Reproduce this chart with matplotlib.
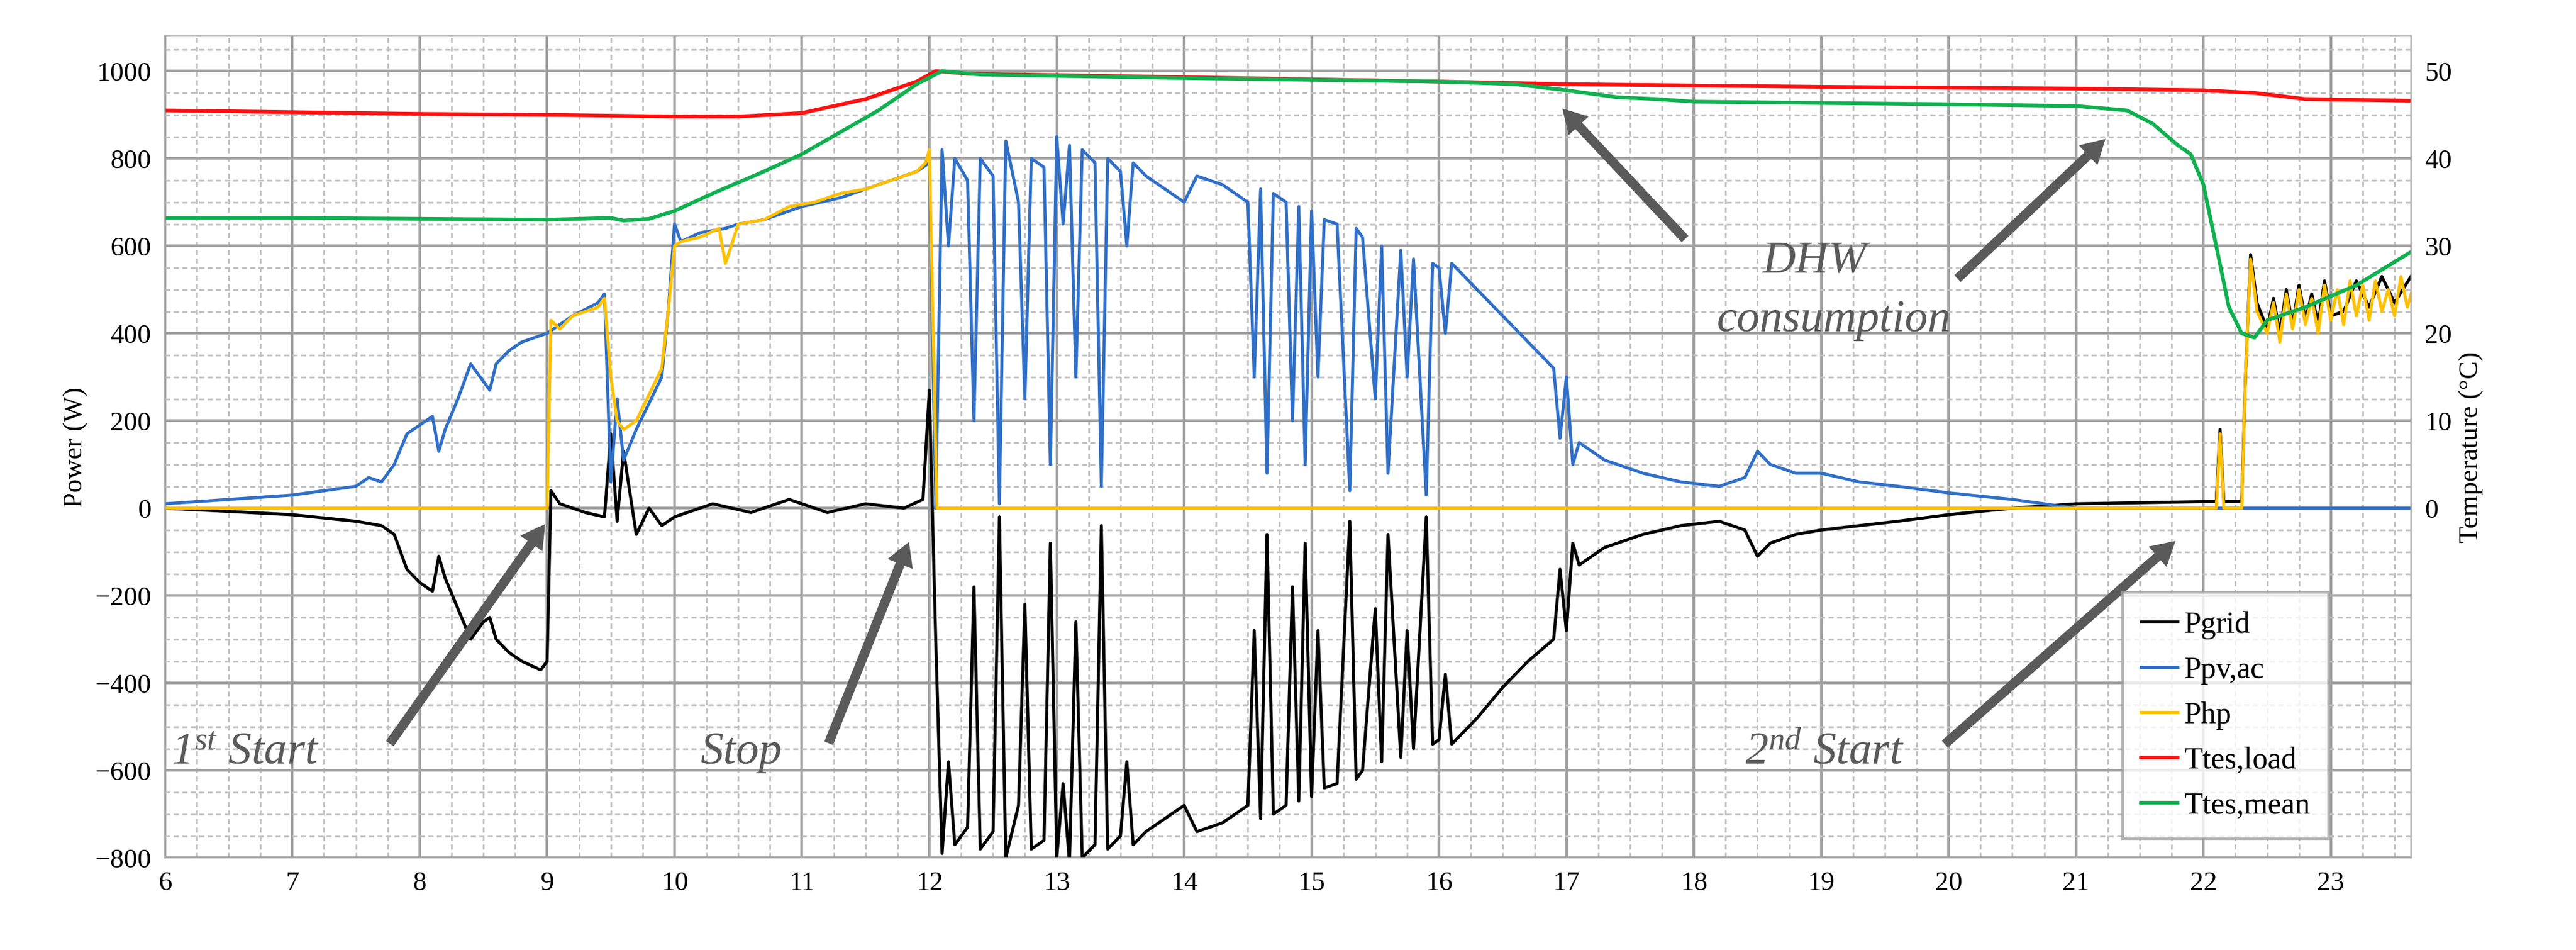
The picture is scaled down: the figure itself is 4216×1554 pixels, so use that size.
import matplotlib
matplotlib.use('Agg')
import numpy as np
import matplotlib.pyplot as plt
from matplotlib.ticker import MultipleLocator

plt.rcParams['font.family'] = ['Liberation Serif', 'DejaVu Serif']
plt.rcParams['mathtext.fontset'] = 'custom'
plt.rcParams['mathtext.it'] = 'Liberation Serif:italic'
plt.rcParams['mathtext.rm'] = 'Liberation Serif:italic'

# ── Data (hours of day, W / degC) ───────────────────────────────────────────
t_load = [6.0, 7.0, 8.0, 9.0, 10.0, 10.5, 11.0, 11.5, 11.9, 12.05, 12.3, 14.0, 16.0,
          17.0, 19.0, 21.0, 22.0, 22.4, 22.8, 23.65]
T_load = [45.5, 45.3, 45.1, 45.0, 44.8, 44.8, 45.2, 46.8, 48.8, 50.0, 49.7, 49.3, 48.8,
          48.5, 48.2, 48.0, 47.8, 47.5, 46.8, 46.6]

t_mean = [6.0, 7.0, 8.0, 9.0, 9.5, 9.6, 9.8, 10.0, 10.3, 10.7, 11.0, 11.3, 11.6, 11.9,
          12.1, 12.4, 14.0, 16.0, 16.6, 17.0, 17.4, 17.7, 18.0, 20.0, 21.0, 21.4, 21.6,
          21.8, 21.9, 22.0, 22.1, 22.2, 22.3, 22.4, 22.5, 22.8, 23.2, 23.65]
T_mean = [33.2, 33.2, 33.1, 33.0, 33.2, 32.9, 33.1, 34.0, 36.0, 38.5, 40.5, 43.0, 45.5,
          48.5, 50.0, 49.6, 49.2, 48.8, 48.5, 47.8, 47.0, 46.8, 46.5, 46.2, 46.0, 45.5,
          44.0, 41.5, 40.5, 37.0, 30.0, 23.0, 20.0, 19.5, 21.5, 23.0, 25.5, 29.5]

t_php = [6.0, 9.0, 9.03, 9.1, 9.2, 9.3, 9.4, 9.45, 9.5, 9.55, 9.6, 9.7, 9.8, 9.9, 9.95,
         10.0, 10.05, 10.2, 10.35, 10.4, 10.5, 10.7, 10.9, 11.1, 11.3, 11.5, 11.7, 11.9,
         11.97, 12.0, 12.03, 12.06, 22.1, 22.13, 22.16, 22.2, 22.3, 22.33, 22.37, 22.42,
         22.5, 22.55, 22.6, 22.65, 22.7, 22.75, 22.8, 22.85, 22.9, 22.95, 23.0, 23.05,
         23.1, 23.15, 23.2, 23.25, 23.3, 23.35, 23.4, 23.45, 23.5, 23.55, 23.6, 23.65]
P_hp = [0, 0, 430, 410, 440, 450, 460, 480, 300, 200, 180, 200, 260, 320, 450,
        600, 610, 620, 640, 560, 650, 660, 690, 700, 720, 730, 750, 770,
        790, 820, 400, 0, 0, 170, 0, 0, 0, 300, 570, 450,
        400, 470, 380, 490, 410, 500, 420, 480, 400, 510, 430, 500,
        420, 520, 440, 510, 430, 520, 450, 500, 440, 530, 460, 510]

t_pv = [6.0, 6.5, 7.0, 7.5, 7.6, 7.7, 7.8, 7.9, 8.0, 8.1, 8.15, 8.2, 8.3, 8.4, 8.5,
        8.55, 8.6, 8.7, 8.8, 9.0, 9.2, 9.4, 9.45, 9.5, 9.55, 9.6, 9.7, 9.8, 9.9, 9.95,
        10.0, 10.05, 10.2, 10.4, 10.5, 10.7, 11.0, 11.3, 11.6, 11.9, 12.0, 12.05,
        12.1, 12.15, 12.2, 12.3, 12.35, 12.4, 12.5, 12.55, 12.6, 12.7, 12.75, 12.8,
        12.9, 12.95, 13.0, 13.05, 13.1, 13.15, 13.2, 13.3, 13.35, 13.4, 13.5, 13.55,
        13.6, 13.7, 13.8, 13.9, 14.0, 14.1, 14.2, 14.3, 14.4, 14.5, 14.55, 14.6,
        14.65, 14.7, 14.8, 14.85, 14.9, 14.95, 15.0, 15.05, 15.1, 15.2, 15.3, 15.35,
        15.4, 15.5, 15.55, 15.6, 15.7, 15.75, 15.8, 15.9, 15.95, 16.0, 16.05, 16.1,
        16.3, 16.5, 16.7, 16.9, 16.95, 17.0, 17.05, 17.1, 17.3, 17.6, 17.9, 18.2,
        18.4, 18.5, 18.6, 18.8, 19.0, 19.3, 19.6, 20.0, 20.5, 21.0, 23.65]
P_pv = [10, 20, 30, 50, 70, 60, 100, 170, 190, 210, 130, 180, 250, 330, 290,
        270, 330, 360, 380, 400, 440, 470, 490, 60, 250, 110, 180, 240, 300, 450,
        650, 610, 630, 640, 650, 660, 690, 710, 740, 770, 790, 0,
        820, 600, 800, 750, 200, 800, 760, 10, 840, 700, 250, 800,
        780, 100, 850, 650, 830, 300, 820, 790, 50, 800, 770, 600,
        790, 760, 740, 720, 700, 760, 750, 740, 720, 700, 300, 730,
        80, 720, 700, 200, 690, 100, 680, 300, 660, 650, 40, 640,
        620, 250, 600, 80, 590, 300, 570, 30, 560, 550, 400, 560,
        500, 440, 380, 320, 160, 300, 100, 150, 110, 80, 60, 50,
        70, 130, 100, 80, 80, 60, 50, 35, 20, 0, 0]

t_grid = [6.0, 7.0, 7.5, 7.7, 7.8, 7.9, 8.0, 8.1, 8.15, 8.2, 8.3, 8.4, 8.5, 8.55,
          8.6, 8.7, 8.8, 8.95, 9.0, 9.03, 9.1, 9.3, 9.45, 9.5, 9.55, 9.6, 9.7, 9.8,
          9.9, 10.0, 10.3, 10.6, 10.9, 11.2, 11.5, 11.8, 11.95, 12.0, 12.05, 12.1,
          12.15, 12.2, 12.3, 12.35, 12.4, 12.5, 12.55, 12.6, 12.7, 12.75, 12.8, 12.9,
          12.95, 13.0, 13.05, 13.1, 13.15, 13.2, 13.3, 13.35, 13.4, 13.5, 13.55, 13.6,
          13.7, 13.8, 13.9, 14.0, 14.1, 14.2, 14.3, 14.4, 14.5, 14.55, 14.6, 14.65,
          14.7, 14.8, 14.85, 14.9, 14.95, 15.0, 15.05, 15.1, 15.2, 15.3, 15.35, 15.4,
          15.5, 15.55, 15.6, 15.7, 15.75, 15.8, 15.9, 15.95, 16.0, 16.05, 16.1, 16.3,
          16.5, 16.7, 16.9, 16.95, 17.0, 17.05, 17.1, 17.3, 17.6, 17.9, 18.2, 18.4,
          18.5, 18.6, 18.8, 19.0, 19.3, 19.6, 20.0, 20.5, 21.0, 22.0, 22.1, 22.13,
          22.16, 22.2, 22.3, 22.33, 22.37, 22.42, 22.5, 22.55, 22.6, 22.65, 22.7,
          22.75, 22.8, 22.85, 22.9, 22.95, 23.0, 23.1, 23.2, 23.3, 23.4, 23.5, 23.65]
P_grid = [0, -15, -30, -40, -60, -140, -170, -190, -110, -160, -230, -300, -260, -250,
          -300, -330, -350, -370, -350, 40, 10, -10, -20, 170, -30, 130, -60, 0,
          -40, -20, 10, -10, 20, -10, 10, 0, 20, 270, -300, -790,
          -580, -770, -730, -180, -780, -740, -20, -800, -680, -220, -780, -760,
          -80, -800, -630, -810, -260, -800, -770, -40, -780, -750, -580, -770,
          -740, -720, -700, -680, -740, -730, -720, -700, -680, -280, -710, -60,
          -700, -680, -180, -670, -80, -660, -280, -640, -630, -30, -620, -600,
          -230, -580, -60, -570, -280, -550, -20, -540, -530, -380, -540, -480,
          -410, -350, -300, -140, -280, -80, -130, -90, -60, -40, -30, -50,
          -110, -80, -60, -50, -40, -30, -15, 0, 10, 15, 15, 180,
          15, 15, 15, 300, 580, 470, 410, 480, 400, 500, 420,
          510, 430, 490, 420, 520, 440, 450, 520, 460, 530, 470, 540]

hours = list(range(6, 24))

# ── Figure ──────────────────────────────────────────────────────────────────
fig = plt.figure(figsize=(21.08, 7.77), dpi=200)
ax = fig.add_axes([0.064, 0.097, 0.872, 0.865])
ax2 = ax.twinx()

ax.set_xlim(6, 23.63)
ax.set_ylim(-800, 1080)
ax2.set_ylim(-40, 54)
ax.xaxis.set_major_locator(MultipleLocator(1))
ax.xaxis.set_minor_locator(MultipleLocator(0.25))
ax.yaxis.set_major_locator(MultipleLocator(200))
ax.yaxis.set_minor_locator(MultipleLocator(50))
ax.set_xticks(hours)
ax2.set_yticks([0, 10, 20, 30, 40, 50])

ax.grid(which='major', color='#a0a0a0', lw=1.6)
ax.grid(which='minor', color='#c0c0c0', lw=1.0, ls=(0, (3, 2)))
ax.set_axisbelow(True)
for a in (ax, ax2):
    for s in a.spines.values():
        s.set_color('#a0a0a0')
    a.tick_params(which='both', length=0, labelsize=16, pad=8)

ax.plot(t_grid, P_grid, color='black', lw=1.8, label='Pgrid')
ax.plot(t_pv, P_pv, color='#2F6FC8', lw=1.8, label='Ppv,ac')
ax.plot(t_php, P_hp, color='#FFC000', lw=1.8, label='Php')
ax2.plot(t_load, T_load, color='#FF1010', lw=2.2, label='Ttes,load')
ax2.plot(t_mean, T_mean, color='#10B050', lw=2.2, label='Ttes,mean')

ax.set_ylabel('Power (W)', fontsize=16)
ax2.set_ylabel('Temperature (°C)', fontsize=16)

h1, l1 = ax.get_legend_handles_labels()
h2, l2 = ax2.get_legend_handles_labels()
leg = ax2.legend(h1 + h2, l1 + l2, loc='lower right', bbox_to_anchor=(0.97, 0.005),
                 fontsize=18, frameon=True, fancybox=False, handlelength=1.2,
                 handletextpad=0.2, labelspacing=0.55, borderpad=0.6)
leg.get_frame().set_edgecolor('#a0a0a0')
leg.get_frame().set_linewidth(1.5)

# ── Annotations ─────────────────────────────────────────────────────────────
acol = '#5a5a5a'
aprops = dict(arrowstyle='simple,head_width=1.6,head_length=1.4,tail_width=0.55',
              color=acol, lw=0)
tkw = dict(fontsize=27, style='italic', color=acol)
ax.text(6.05, -560, r'1$^{st}$ Start', va='center', ha='left', **tkw)
ax.annotate('', xy=(9.0, -30), xytext=(7.75, -545), arrowprops=aprops)
ax.text(10.2, -560, 'Stop', va='center', ha='left', **tkw)
ax.annotate('', xy=(11.85, -70), xytext=(11.2, -545), arrowprops=aprops)
ax.text(18.4, -560, r'2$^{nd}$ Start', va='center', ha='left', **tkw)
ax.annotate('', xy=(21.8, -70), xytext=(19.95, -545), arrowprops=aprops)
ax.text(18.95, 565, 'DHW', va='center', ha='center', **tkw)
ax.text(19.1, 430, 'consumption', va='center', ha='center', **tkw)
ax.annotate('', xy=(16.95, 920), xytext=(17.95, 610), arrowprops=aprops)
ax.annotate('', xy=(21.25, 850), xytext=(20.05, 520), arrowprops=aprops)

fig.savefig('out.png', dpi=200)
